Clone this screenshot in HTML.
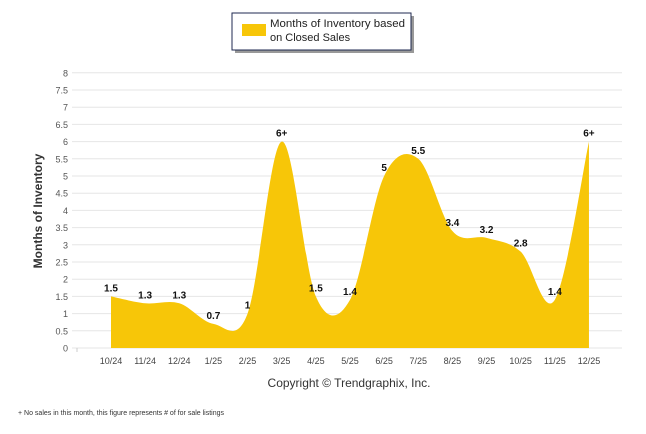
<!DOCTYPE html>
<html><head><meta charset="utf-8"><style>
body{margin:0;background:#fff;font-family:"Liberation Sans",Arial,sans-serif;}
svg{display:block}
</style></head><body>
<svg id="chart" width="646" height="434" xmlns="http://www.w3.org/2000/svg">
<g>
<rect x="235" y="16" width="179" height="37" fill="#999"/>
<rect x="232" y="13" width="179" height="37" fill="#fff" stroke="#1f2a50" stroke-width="1"/>
<rect x="242" y="24" width="24" height="12" fill="#f7c608"/>
<text x="270" y="27" font-size="11" fill="#222" textLength="135" lengthAdjust="spacingAndGlyphs">Months of Inventory based</text>
<text x="270" y="41" font-size="11" fill="#222">on Closed Sales</text>
</g>
<g id="grid"></g>
<g id="area"></g>
<g id="labels"></g>
<g id="xaxis"></g>
<text x="42" y="211" font-size="12" font-weight="bold" fill="#333" text-anchor="middle" transform="rotate(-90 42 211)">Months of Inventory</text>
<text x="349" y="387" font-size="12" fill="#333" text-anchor="middle">Copyright © Trendgraphix, Inc.</text>
<text x="18" y="415" font-size="7" fill="#333">+  No sales in this month, this figure represents # of for sale listings</text>
</svg>
<script>
const categories=["10/24","11/24","12/24","1/25","2/25","3/25","4/25","5/25","6/25","7/25","8/25","9/25","10/25","11/25","12/25"];
const values=[1.5,1.3,1.3,0.7,1,6,1.5,1.4,5,5.5,3.4,3.2,2.8,1.4,6];
const valueLabels=["1.5","1.3","1.3","0.7","1","6+","1.5","1.4","5","5.5","3.4","3.2","2.8","1.4","6+"];
const yTicks=[0,0.5,1,1.5,2,2.5,3,3.5,4,4.5,5,5.5,6,6.5,7,7.5,8];
const NS="http://www.w3.org/2000/svg";
function y(v){return 348-v*34.4;}
function x(i){return 111+i*34.14;}
function mk(t,a,p){const e=document.createElementNS(NS,t);for(const k in a)e.setAttribute(k,a[k]);p.appendChild(e);return e;}
const grid=document.getElementById('grid');
yTicks.forEach(t=>{
 const l=mk('line',{x1:72,x2:622,y1:y(t),y2:y(t),stroke:'#e6e6e6','stroke-width':1},grid);
 
 
 const tx=mk('text',{x:68,y:y(t)+3.5,'font-size':9,fill:'#555','text-anchor':'end'},grid);
 tx.textContent=t;
 
 
});
const xa=document.getElementById('xaxis');
categories.forEach((c,i)=>{
 const tx=mk('text',{x:x(i),y:364,'font-size':9,fill:'#444','text-anchor':'middle'},xa);
 tx.textContent=c;
 
 
});
mk('line',{x1:77,x2:77,y1:348,y2:352,stroke:'#ccc'},xa);
const pts=values.map((v,i)=>[x(i),y(v)]);
let d=`M${pts[0][0]},348 L${pts[0][0]},${pts[0][1]}`;
for(let i=0;i<pts.length-1;i++){
 const p0=pts[Math.max(0,i-1)],p1=pts[i],p2=pts[i+1],p3=pts[Math.min(pts.length-1,i+2)];
 const k=1/6;
 d+=` C${p1[0]+(p2[0]-p0[0])*k},${p1[1]+(p2[1]-p0[1])*k} ${p2[0]-(p3[0]-p1[0])*k},${p2[1]-(p3[1]-p1[1])*k} ${p2[0]},${p2[1]}`;
}
d+=` L${pts[pts.length-1][0]},348 Z`;
const ar=mk('path',{d:d,fill:'#f7c608'},document.getElementById('area'));


const lb=document.getElementById('labels');
values.forEach((v,i)=>{
 const tx=mk('text',{x:x(i),y:y(v)-5,'font-size':10,'font-weight':'bold',fill:'#111','text-anchor':'middle'},lb);
 tx.textContent=valueLabels[i];
 
 
});
</script>
</body></html>
